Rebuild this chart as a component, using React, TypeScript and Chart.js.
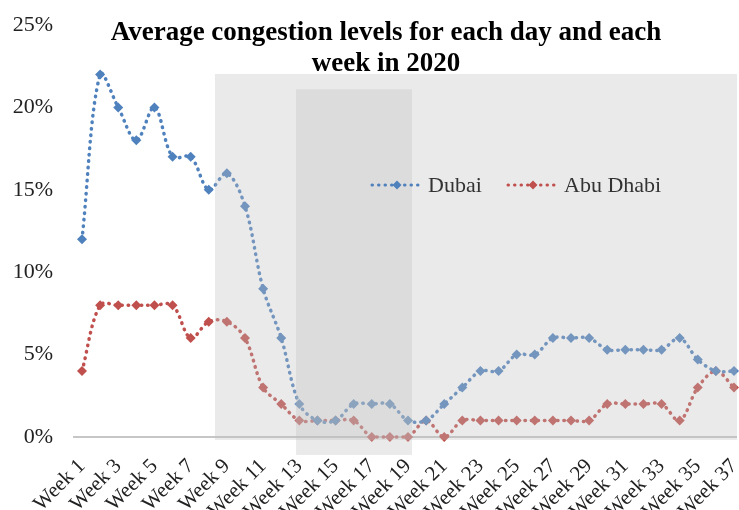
import React, { useEffect, useRef } from 'react';
import { Chart, registerables } from 'chart.js';

Chart.register(...registerables);

const weeks = [
  'Week 1', 'Week 2', 'Week 3', 'Week 4', 'Week 5', 'Week 6', 'Week 7', 'Week 8', 'Week 9', 'Week 10',
  'Week 11', 'Week 12', 'Week 13', 'Week 14', 'Week 15', 'Week 16', 'Week 17', 'Week 18', 'Week 19', 'Week 20',
  'Week 21', 'Week 22', 'Week 23', 'Week 24', 'Week 25', 'Week 26', 'Week 27', 'Week 28', 'Week 29', 'Week 30',
  'Week 31', 'Week 32', 'Week 33', 'Week 34', 'Week 35', 'Week 36', 'Week 37',
];

const dubai = [12, 22, 20, 18, 20, 17, 17, 15, 16, 14, 9, 6, 2, 1, 1, 2, 2, 2, 1, 1, 2, 3, 4, 4, 5, 5, 6, 6, 6, 5.3, 5.3, 5.3, 5.3, 6, 4.7, 4, 4];
const abuDhabi = [4, 8, 8, 8, 8, 8, 6, 7, 7, 6, 3, 2, 1, 1, 1, 1, 0, 0, 0, 1, 0, 1, 1, 1, 1, 1, 1, 1, 1, 2, 2, 2, 2, 1, 3, 4, 3];

const yMin = 0;
const yMax = 25;
const yStep = 5;

const titleLines = ['Average congestion levels for each day and each', 'week in 2020'];

// shaded periods, in data units (category index, percent)
const lightShade = { from: 7.34, to: 36.17, low: -0.18, high: 22.03 };
const darkShade = { from: 11.82, to: 18.22, low: -1.09, high: 21.1 };

const BLUE = '#4F81BD';
const RED = '#C0504D';
const FONT = "'Liberation Serif', 'Times New Roman', serif";

const overlayPlugin = {
  id: 'overlay',
  beforeDatasetsDraw(chart: any) {
    const { ctx, chartArea, scales } = chart;
    const y0 = scales.y.getPixelForValue(0);
    ctx.save();
    ctx.strokeStyle = '#c6c6c6';
    ctx.lineWidth = 2;
    ctx.beginPath();
    ctx.moveTo(chartArea.left - 9, y0);
    ctx.lineTo(chartArea.right + 3, y0);
    ctx.stroke();
    ctx.restore();
  },
  afterDatasetsDraw(chart: any) {
    const { ctx, scales } = chart;
    const { x, y } = scales;
    const fillShade = (s: any, color: string) => {
      const x1 = x.getPixelForValue(s.from);
      const x2 = x.getPixelForValue(s.to);
      const y1 = y.getPixelForValue(s.high);
      const y2 = y.getPixelForValue(s.low);
      ctx.fillStyle = color;
      ctx.fillRect(x1, y1, x2 - x1, y2 - y1);
    };
    ctx.save();
    fillShade(lightShade, 'rgba(192,192,192,0.33)');
    fillShade(darkShade, 'rgba(192,192,192,0.33)');
    ctx.restore();
  },
  afterDraw(chart: any) {
    const { ctx } = chart;
    ctx.save();
    // title
    ctx.fillStyle = '#000';
    ctx.font = `bold 27px ${FONT}`;
    ctx.textAlign = 'center';
    ctx.textBaseline = 'middle';
    ctx.fillText(titleLines[0], 386, 33);
    ctx.fillText(titleLines[1], 386, 64);
    // legend
    const items = [
      { x: 372, ds: chart.data.datasets[0] },
      { x: 508, ds: chart.data.datasets[1] },
    ];
    const ly = 185;
    items.forEach(({ x, ds }) => {
      ctx.strokeStyle = ds.borderColor;
      ctx.lineWidth = 3;
      ctx.lineCap = 'round';
      ctx.setLineDash([0.5, 6]);
      ctx.beginPath();
      ctx.moveTo(x, ly);
      ctx.lineTo(x + 46, ly);
      ctx.stroke();
      ctx.setLineDash([]);
      const cx = x + 25;
      const r = 4.5;
      ctx.fillStyle = ds.borderColor;
      ctx.beginPath();
      ctx.moveTo(cx, ly - r);
      ctx.lineTo(cx + r, ly);
      ctx.lineTo(cx, ly + r);
      ctx.lineTo(cx - r, ly);
      ctx.closePath();
      ctx.fill();
      ctx.fillStyle = '#333';
      ctx.font = `22px ${FONT}`;
      ctx.textAlign = 'left';
      ctx.textBaseline = 'middle';
      ctx.fillText(ds.label, x + 56, ly + 1);
    });
    ctx.restore();
  },
};

export default function App() {
  const canvasRef = useRef<HTMLCanvasElement | null>(null);

  useEffect(() => {
    if (!canvasRef.current) return;
    const lineDs = (label: string, data: number[], color: string) => ({
      label,
      data,
      borderColor: color,
      backgroundColor: color,
      borderWidth: 3.5,
      borderDash: [0.5, 6],
      borderCapStyle: 'round' as const,
      pointStyle: 'rectRot' as const,
      pointRadius: 5,
      pointBorderWidth: 0,
      pointBackgroundColor: color,
      tension: 0.35,
      clip: false as const,
    });
    const chart = new Chart(canvasRef.current, {
      type: 'line',
      data: {
        labels: weeks,
        datasets: [lineDs('Dubai', dubai, BLUE), lineDs('Abu Dhabi', abuDhabi, RED)],
      },
      options: {
        responsive: false,
        animation: false,
        devicePixelRatio: 1,
        layout: { padding: { top: 25, right: 5, left: 0, bottom: 0 } },
        plugins: {
          legend: { display: false },
          title: { display: false },
          tooltip: { enabled: false },
        },
        scales: {
          x: {
            type: 'category',
            offset: false,
            grid: { display: false, drawTicks: false },
            border: { display: false },
            ticks: {
              autoSkip: false,
              maxRotation: 45,
              minRotation: 45,
              padding: 17,
              color: '#222',
              font: { family: FONT, size: 21 },
              callback: (_v: any, i: number) => (i % 2 === 0 ? weeks[i] : ''),
            },
            afterFit: (scale: any) => {
              scale.height = 73;
              scale.paddingLeft = 0;
              scale.paddingRight = 0;
            },
          },
          y: {
            min: yMin,
            max: yMax,
            grid: { display: false, drawTicks: false },
            border: { display: false },
            ticks: {
              stepSize: yStep,
              padding: 29,
              color: '#222',
              font: { family: FONT, size: 22 },
              callback: (v: any) => `${v}%`,
            },
            afterFit: (scale: any) => {
              scale.width = 82;
              scale.paddingTop = 0;
              scale.paddingBottom = 0;
            },
          },
        },
      },
      plugins: [overlayPlugin],
    });
    return () => chart.destroy();
  }, []);

  return (
    <div style={{ position: 'fixed', left: 0, top: 0, width: 739, height: 510, background: '#fff' }}>
      <canvas ref={canvasRef} width={739} height={510} style={{ width: 739, height: 510, display: 'block' }} />
    </div>
  );
}
